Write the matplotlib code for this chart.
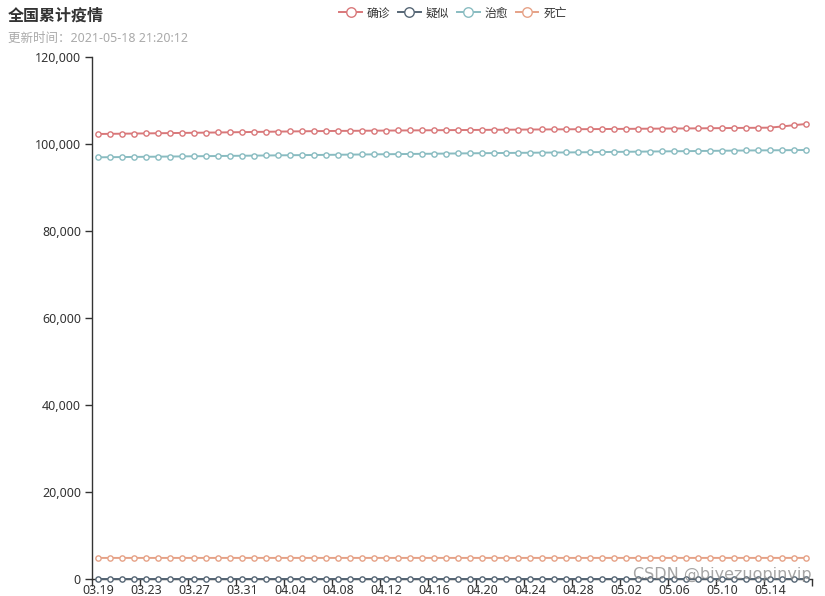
import matplotlib
matplotlib.use("Agg")
import matplotlib.pyplot as plt
from matplotlib.ticker import FuncFormatter, FixedLocator

plt.rcParams['font.family'] = ['Noto Sans', 'Noto Sans CJK SC', 'DejaVu Sans']

dates = ["03.19","03.20","03.21","03.22","03.23","03.24","03.25","03.26","03.27","03.28",
         "03.29","03.30","03.31","04.01","04.02","04.03","04.04","04.05","04.06","04.07",
         "04.08","04.09","04.10","04.11","04.12","04.13","04.14","04.15","04.16","04.17",
         "04.18","04.19","04.20","04.21","04.22","04.23","04.24","04.25","04.26","04.27",
         "04.28","04.29","04.30","05.01","05.02","05.03","05.04","05.05","05.06","05.07",
         "05.08","05.09","05.10","05.11","05.12","05.13","05.14","05.15","05.16","05.17"]

confirmed = [102300,102335,102370,102405,102440,102475,102510,102545,102580,102615,
             102650,102690,102730,102770,102810,102850,102885,102920,102955,102985,
             103005,103025,103045,103065,103085,103105,103125,103145,103165,103185,
             103205,103225,103245,103265,103285,103305,103325,103345,103365,103380,
             103400,103420,103440,103460,103480,103500,103520,103540,103560,103580,
             103600,103625,103650,103680,103710,103730,103760,104030,104330,104600]

suspected = [3,3,2,2,3,4,3,2,2,3,3,2,2,3,4,3,3,2,2,3,
             3,2,2,2,3,3,4,3,2,2,3,3,2,2,3,3,2,2,3,3,
             2,2,3,3,2,2,3,2,2,3,3,2,2,3,3,2,2,3,4,5]

cured = [96940,96970,97000,97030,97060,97090,97120,97150,97180,97210,
         97240,97270,97300,97330,97360,97390,97420,97450,97475,97500,
         97530,97560,97590,97620,97650,97680,97710,97740,97770,97800,
         97830,97860,97890,97915,97940,97965,97990,98015,98040,98060,
         98090,98120,98150,98180,98210,98240,98270,98300,98330,98360,
         98390,98420,98450,98480,98510,98530,98550,98570,98595,98620]

dead = [4846,4846,4846,4846,4846,4846,4846,4846,4846,4846,
        4847,4847,4847,4847,4847,4847,4847,4847,4847,4847,
        4848,4848,4848,4848,4848,4848,4848,4848,4848,4848,
        4848,4848,4848,4848,4848,4848,4848,4848,4848,4848,
        4848,4848,4848,4848,4848,4848,4849,4849,4849,4849,
        4849,4849,4849,4849,4849,4849,4850,4850,4850,4851]

series_names = ["确诊", "疑似", "治愈", "死亡"]
series_colors = ["#d9787a", "#566675", "#89bcc1", "#e6a287"]
series_data = [confirmed, suspected, cured, dead]

W, H = 825, 596
fig = plt.figure(figsize=(W / 100, H / 100), dpi=100)
ax = fig.add_axes([92 / W, 17 / H, (812 - 92) / W, (579 - 57) / H])

x = list(range(len(dates)))
handles = []
for name, col, data in zip(series_names, series_colors, series_data):
    h, = ax.plot(x, data, color=col, lw=1.4, marker='o', markersize=3.8,
                 markerfacecolor='white', markeredgecolor=col, markeredgewidth=1.0,
                 label=name, zorder=3, clip_on=False)
    handles.append(h)

ax.set_xlim(-0.5, len(dates) - 0.5)
ax.set_ylim(0, 120000)

# y axis
ax.set_yticks([0, 20000, 40000, 60000, 80000, 100000, 120000])
ax.yaxis.set_major_formatter(FuncFormatter(lambda v, p: f"{int(v):,}"))
ax.tick_params(axis='y', length=5, width=1, color='#333333', labelcolor='#333333',
               labelsize=9, pad=3)

# x axis: ticks at band boundaries, labels at band centers
bounds = [i - 0.5 for i in range(0, len(dates) + 1, 4)]
ax.xaxis.set_major_locator(FixedLocator(bounds))
ax.xaxis.set_major_formatter(FuncFormatter(lambda v, p: ""))
label_pos = list(range(0, len(dates), 4))
ax.xaxis.set_minor_locator(FixedLocator(label_pos))
ax.xaxis.set_minor_formatter(FuncFormatter(lambda v, p: dates[int(round(v))]))
ax.tick_params(axis='x', which='major', length=5, width=1, color='#333333')
ax.tick_params(axis='x', which='minor', length=0, labelcolor='#333333',
               labelsize=9, pad=3.5)

for s in ['top', 'right']:
    ax.spines[s].set_visible(False)
for s in ['left', 'bottom']:
    ax.spines[s].set_color('#333333')
    ax.spines[s].set_linewidth(1)

# title and subtitle
fig.text(8 / W, 1 - 16 / H, "全国累计疫情", fontsize=11.5, fontweight='bold',
         color='#333333', va='center', ha='left', family=['Noto Sans CJK SC'])
fig.text(8 / W, 1 - 38 / H, "更新时间：2021-05-18 21:20:12", fontsize=9,
         color='#aaaaaa', va='center', ha='left')

# legend
leg = fig.legend(handles=handles, loc='center', bbox_to_anchor=(453 / W, 1 - 13 / H),
                 ncol=4, frameon=False, fontsize=8.5, handlelength=1.9,
                 handletextpad=0.4, columnspacing=0.7, markerscale=1.8)
for t in leg.get_texts():
    t.set_color('#333333')

# watermark
fig.text(812 / W, 1 - 574 / H, "CSDN @biyezuopinvip", fontsize=11.5,
         color='#888888', alpha=0.75, ha='right', va='center', family=['DejaVu Sans'])

fig.savefig("out.png", dpi=100)
